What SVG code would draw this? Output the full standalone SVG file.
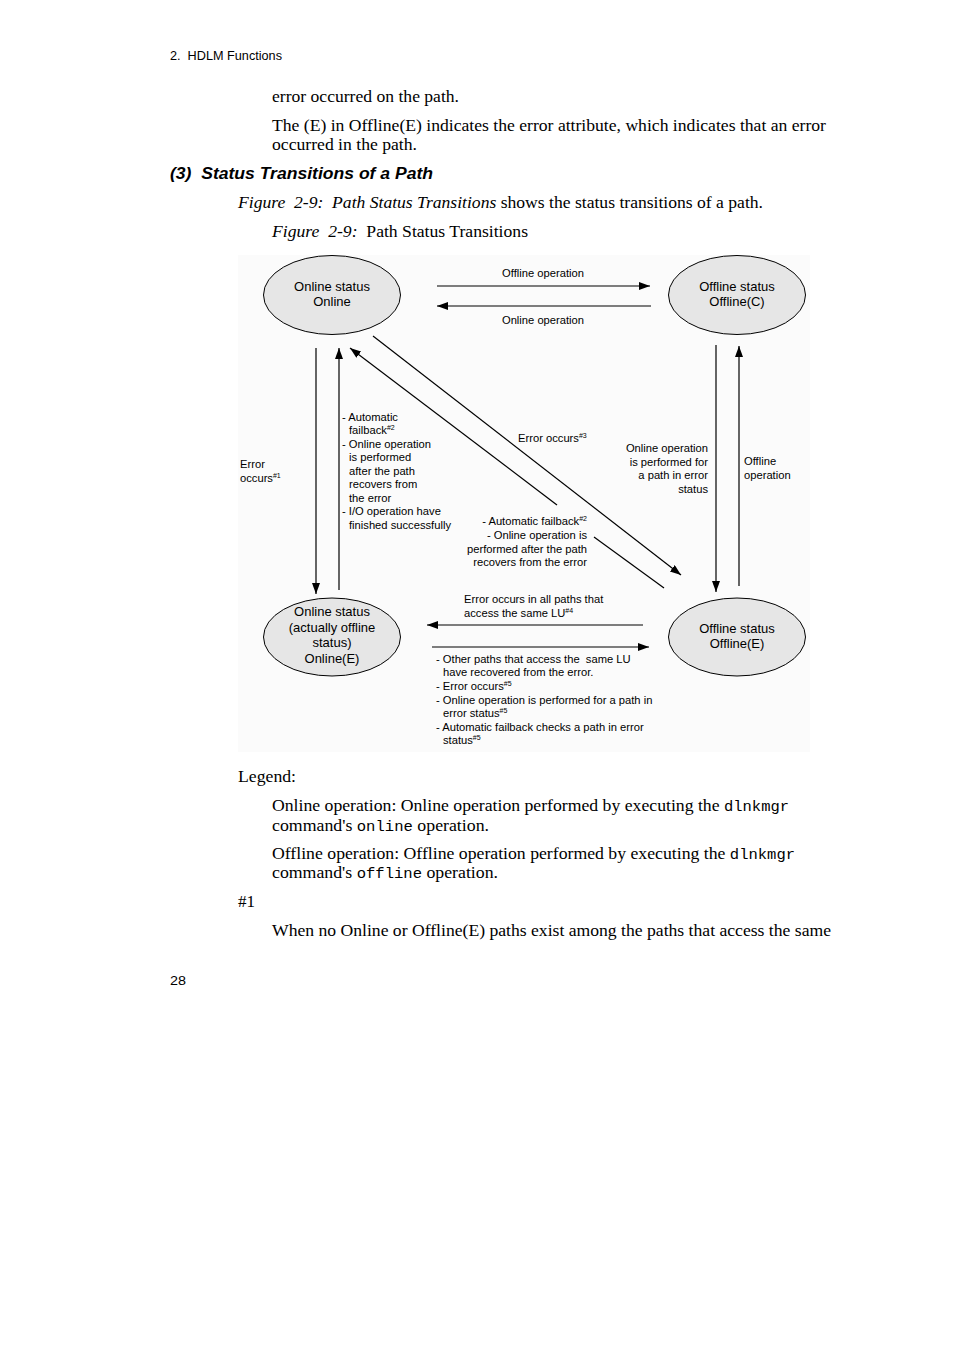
<svg xmlns="http://www.w3.org/2000/svg" width="954" height="1351" viewBox="0 0 954 1351">
<defs>
<style>
.body{font-family:"Liberation Serif","Times New Roman",serif;font-size:16px;fill:#000}
.mono{font-family:"Liberation Mono","Courier New",monospace;font-size:14px}
.hdr{font-family:"Liberation Sans",Arial,sans-serif;font-size:12px;fill:#000}
.h3{font-family:"Liberation Sans",Arial,sans-serif;font-size:16px;font-weight:bold;font-style:italic;fill:#000}
.lbl{font-family:"Liberation Sans",Arial,sans-serif;font-size:11.2px;fill:#000}
.node{font-family:"Liberation Sans",Arial,sans-serif;font-size:13px;fill:#000;text-anchor:middle}
.sup{font-size:7px}
.st{fill:#e6e6e6;stroke:#000;stroke-width:1}
.ln{stroke:#000;stroke-width:1.2;fill:none}
.ar{stroke:#000;stroke-width:1.2;fill:none;marker-end:url(#ah)}
.mid{text-anchor:middle}
.end{text-anchor:end}
</style>
<marker id="ah" markerUnits="userSpaceOnUse" markerWidth="12" markerHeight="10" refX="11" refY="4" orient="auto">
<path d="M0,0 L11,4 L0,8 Z" fill="#000"/>
</marker>
</defs>
<rect width="954" height="1351" fill="#fff"/>
<!-- page text -->
<text class="hdr" x="170" y="60" xml:space="preserve" textLength="112" lengthAdjust="spacingAndGlyphs">2.  HDLM Functions</text>
<text class="body" x="272" y="102" textLength="187" lengthAdjust="spacingAndGlyphs">error occurred on the path.</text>
<text class="body" x="272" y="131" textLength="554" lengthAdjust="spacingAndGlyphs">The (E) in Offline(E) indicates the error attribute, which indicates that an error</text>
<text class="body" x="272" y="150" textLength="145" lengthAdjust="spacingAndGlyphs">occurred in the path.</text>
<text class="h3" x="170" y="179" xml:space="preserve" textLength="263" lengthAdjust="spacingAndGlyphs">(3)  Status Transitions of a Path</text>
<text class="body" x="238" y="208" xml:space="preserve" textLength="525" lengthAdjust="spacingAndGlyphs"><tspan font-style="italic">Figure  2-9:  Path Status Transitions</tspan> shows the status transitions of a path.</text>
<text class="body" x="272" y="237" xml:space="preserve" textLength="256" lengthAdjust="spacingAndGlyphs"><tspan font-style="italic">Figure  2-9:</tspan>  Path Status Transitions</text>

<!-- diagram background -->
<rect x="238" y="255" width="572" height="497" fill="#fbfbfb"/>

<g id="connectors">
<line class="ar" x1="437" y1="286" x2="650" y2="286"/>
<line class="ar" x1="651" y1="306" x2="437" y2="306"/>
<line class="ar" x1="316" y1="348" x2="316" y2="594"/>
<line class="ar" x1="339" y1="590" x2="339" y2="348"/>
<line class="ar" x1="557" y1="505" x2="350" y2="348"/>
<line class="ln" x1="594" y1="537" x2="664" y2="588"/>
<line class="ar" x1="373" y1="336" x2="681" y2="575"/>
<line class="ar" x1="716" y1="345" x2="716" y2="592"/>
<line class="ar" x1="739" y1="586" x2="739" y2="346"/>
<line class="ar" x1="643" y1="625" x2="427" y2="625"/>
<line class="ar" x1="432" y1="647" x2="649" y2="647"/>
</g>

<g id="labels">
<text class="lbl mid" x="543" y="277">Offline operation</text>
<text class="lbl mid" x="543" y="324">Online operation</text>
<text class="lbl" x="240" y="468">Error</text>
<text class="lbl" x="240" y="482">occurs<tspan class="sup" dy="-4">#1</tspan></text>
<text class="lbl" x="342" y="421">- Automatic</text>
<text class="lbl" x="349" y="434">failback<tspan class="sup" dy="-4">#2</tspan></text>
<text class="lbl" x="342" y="448">- Online operation</text>
<text class="lbl" x="349" y="461">is performed</text>
<text class="lbl" x="349" y="475">after the path</text>
<text class="lbl" x="349" y="488">recovers from</text>
<text class="lbl" x="349" y="502">the error</text>
<text class="lbl" x="342" y="515">- I/O operation have</text>
<text class="lbl" x="349" y="529">finished successfully</text>
<text class="lbl" x="518" y="442">Error occurs<tspan class="sup" dy="-4">#3</tspan></text>
<text class="lbl end" x="708" y="452">Online operation</text>
<text class="lbl end" x="708" y="466">is performed for</text>
<text class="lbl end" x="708" y="479">a path in error</text>
<text class="lbl end" x="708" y="493">status</text>
<text class="lbl" x="744" y="465">Offline</text>
<text class="lbl" x="744" y="479">operation</text>
<text class="lbl end" x="587" y="525">- Automatic failback<tspan class="sup" dy="-4">#2</tspan></text>
<text class="lbl end" x="587" y="539">- Online operation is</text>
<text class="lbl end" x="587" y="553">performed after the path</text>
<text class="lbl end" x="587" y="566">recovers from the error</text>
<text class="lbl" x="464" y="603">Error occurs in all paths that</text>
<text class="lbl" x="464" y="617">access the same LU<tspan class="sup" dy="-4">#4</tspan></text>
<text class="lbl" x="436" y="663" xml:space="preserve">- Other paths that access the  same LU</text>
<text class="lbl" x="443" y="676">have recovered from the error.</text>
<text class="lbl" x="436" y="690">- Error occurs<tspan class="sup" dy="-4">#5</tspan></text>
<text class="lbl" x="436" y="704">- Online operation is performed for a path in</text>
<text class="lbl" x="443" y="717">error status<tspan class="sup" dy="-4">#5</tspan></text>
<text class="lbl" x="436" y="731">- Automatic failback checks a path in error</text>
<text class="lbl" x="443" y="744">status<tspan class="sup" dy="-4">#5</tspan></text>
</g>

<g id="node-online">
<ellipse class="st" cx="332" cy="295" rx="68.5" ry="39.5"/>
<text class="node" x="332" y="291">Online status</text>
<text class="node" x="332" y="306">Online</text>
</g>
<g id="node-offline-c">
<ellipse class="st" cx="737" cy="295" rx="68.5" ry="39.5"/>
<text class="node" x="737" y="291">Offline status</text>
<text class="node" x="737" y="306">Offline(C)</text>
</g>
<g id="node-online-e">
<ellipse class="st" cx="332" cy="637" rx="68.5" ry="39"/>
<text class="node" x="332" y="616">Online status</text>
<text class="node" x="332" y="632">(actually offline</text>
<text class="node" x="332" y="647">status)</text>
<text class="node" x="332" y="663">Online(E)</text>
</g>
<g id="node-offline-e">
<ellipse class="st" cx="737" cy="637" rx="68.5" ry="39"/>
<text class="node" x="737" y="633">Offline status</text>
<text class="node" x="737" y="648">Offline(E)</text>
</g>

<!-- legend -->
<text class="body" x="238" y="782" textLength="58" lengthAdjust="spacingAndGlyphs">Legend:</text>
<text class="body" x="272" y="811" textLength="517" lengthAdjust="spacingAndGlyphs">Online operation: Online operation performed by executing the <tspan class="mono">dlnkmgr</tspan></text>
<text class="body" x="272" y="831" textLength="217" lengthAdjust="spacingAndGlyphs">command's <tspan class="mono">online</tspan> operation.</text>
<text class="body" x="272" y="859" textLength="523" lengthAdjust="spacingAndGlyphs">Offline operation: Offline operation performed by executing the <tspan class="mono">dlnkmgr</tspan></text>
<text class="body" x="272" y="878" textLength="226" lengthAdjust="spacingAndGlyphs">command's <tspan class="mono">offline</tspan> operation.</text>
<text class="body" x="238" y="907" textLength="17" lengthAdjust="spacingAndGlyphs">#1</text>
<text class="body" x="272" y="936" textLength="559" lengthAdjust="spacingAndGlyphs">When no Online or Offline(E) paths exist among the paths that access the same</text>
<text class="hdr" x="170" y="985" textLength="16" lengthAdjust="spacingAndGlyphs">28</text>
</svg>
